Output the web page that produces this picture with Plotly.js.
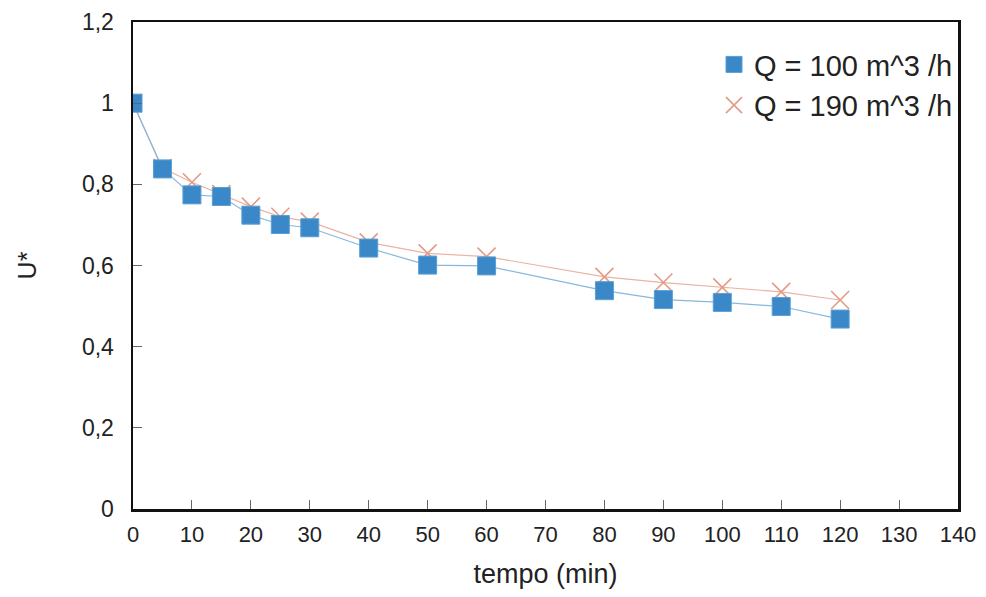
<!DOCTYPE html>
<html>
<head>
<meta charset="utf-8">
<script src="https://cdn.plot.ly/plotly-3.0.1.min.js"></script>
<style>html,body{margin:0;padding:0;background:#fff}#chart{width:986px;height:597px}</style>
</head>
<body>
<div id="chart"></div>
<script>
const tempo100 = [0, 5, 10, 15, 20, 25, 30, 40, 50, 60, 80, 90, 100, 110, 120];
const u100 = [1.0, 0.838, 0.774, 0.77, 0.724, 0.701, 0.693, 0.643, 0.601, 0.599, 0.538, 0.516, 0.509, 0.499, 0.468];
const tempo190 = [0, 5, 10, 15, 20, 25, 30, 40, 50, 60, 80, 90, 100, 110, 120];
const u190 = [1.0, 0.84, 0.805, 0.776, 0.745, 0.72, 0.708, 0.657, 0.63, 0.622, 0.572, 0.558, 0.546, 0.535, 0.515];
const name100 = "Q = 100 m^3 /h";
const name190 = "Q = 190 m^3 /h";
const xTicks = [0,10,20,30,40,50,60,70,80,90,100,110,120,130,140];
const yTicks = [0,0.2,0.4,0.6,0.8,1,1.2];
const yTickText = ["0","0,2","0,4","0,6","0,8","1","1,2"];

const blue = "#3a88c8";
const salmon = "#e39a86";
const m190 = {symbol: "x-thin", size: 18, color: salmon, line: {color: salmon, width: 1.6}};
const m100 = {symbol: "square", size: 18, color: blue, line: {color: "#5a9fd4", width: 1}};

const traces = [
  {
    x: tempo190, y: u190, name: name190, mode: "lines+markers", showlegend: false,
    line: {color: "#eab3a3", width: 1.2}, marker: m190
  },
  {
    x: tempo100, y: u100, name: name100, mode: "lines+markers", showlegend: false,
    line: {color: "#86b8dc", width: 1.2}, marker: m100
  },
  // legend entries (symbol only, as in the reference)
  {x: [null], y: [null], name: name100, mode: "markers", marker: m100, showlegend: true},
  {x: [null], y: [null], name: name190, mode: "markers", marker: m190, showlegend: true}
];

const layout = {
  width: 986, height: 597,
  margin: {l: 133, r: 28, t: 22, b: 88},
  paper_bgcolor: "#fff", plot_bgcolor: "#fff",
  font: {family: "Arial, Liberation Sans, sans-serif", color: "#222"},
  showlegend: true,
  legend: {
    x: 1, xanchor: "right", y: 0.965, yanchor: "top",
    bgcolor: "rgba(0,0,0,0)", font: {size: 29, color: "#222"},
    traceorder: "normal", itemwidth: 30, tracegroupgap: 0
  },
  xaxis: {
    range: [0, 140], tickvals: xTicks, ticktext: xTicks.map(String),
    showgrid: false, zeroline: false,
    showline: true, linecolor: "#111", linewidth: 2.5, mirror: true,
    ticks: "inside", ticklen: 9, tickcolor: "#666", tickwidth: 1,
    ticklabelstandoff: 4,
    tickfont: {size: 22, color: "#222"},
    title: {text: "tempo (min)", font: {size: 27, color: "#222"}, standoff: 18}
  },
  yaxis: {
    range: [0, 1.2], tickvals: yTicks, ticktext: yTickText,
    showgrid: false, zeroline: false,
    showline: true, linecolor: "#111", linewidth: 2.5, mirror: true,
    ticks: "inside", ticklen: 9, tickcolor: "#666", tickwidth: 1,
    ticklabelstandoff: 12,
    tickfont: {size: 23, color: "#222"},
    title: {text: "U*", font: {size: 25, color: "#222"}, standoff: 38}
  }
};

Plotly.newPlot("chart", traces, layout, {displayModeBar: false, staticPlot: true});
</script>
</body>
</html>
